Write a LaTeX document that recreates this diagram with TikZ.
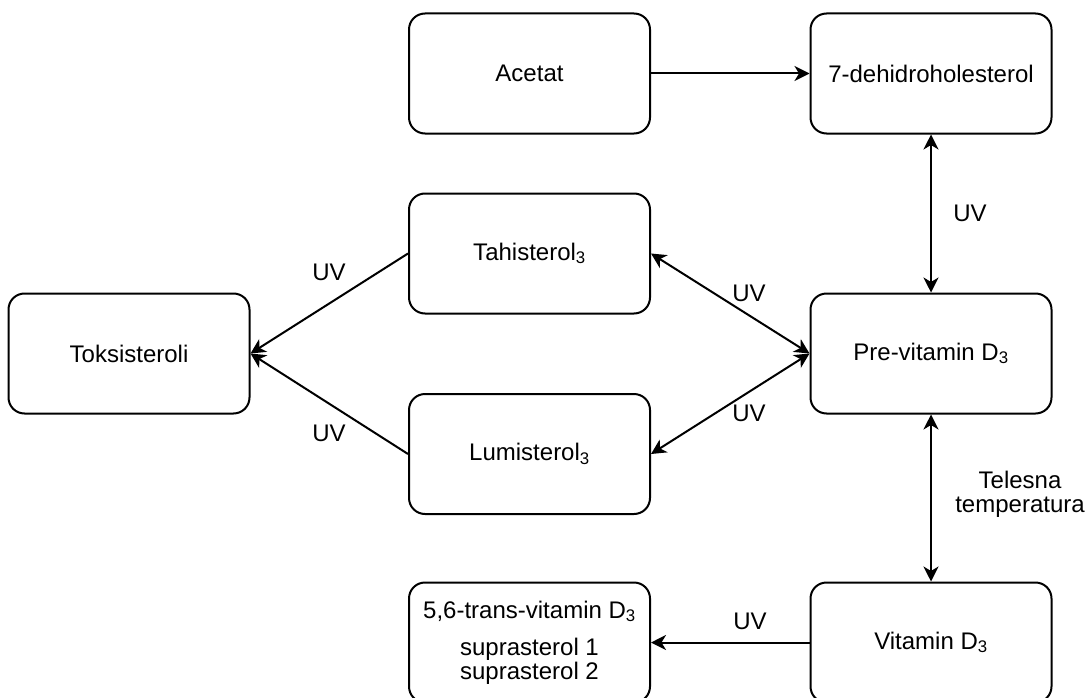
\documentclass[tikz,border=0pt]{standalone}
\usepackage{fontspec}
\setmainfont{Liberation Sans}
\usetikzlibrary{arrows.meta}
\begin{document}
\begin{tikzpicture}[x=1pt,y=-1pt,
  box/.style={draw, line width=2pt, rounded corners=16pt, minimum width=241pt, minimum height=120pt, inner sep=0pt, align=center, font=\fontsize{24}{24}\selectfont},
  lbl/.style={font=\fontsize{24}{24}\selectfont, inner sep=0pt, align=center},
  tip/.tip={Stealth[length=15pt,width=15pt,inset=4.5pt]},
  conn/.style={line width=2pt, -tip},
  bconn/.style={line width=2pt, tip-tip}]
\useasboundingbox (0,0) rectangle (1086,698);
\node[box] (acetat) at (529.5,73.5) {Acetat};
\node[box] (dehidro) at (931,73.5) {7-dehidroholesterol};
\node[box] (tahi) at (529.5,253.5) {Tahisterol\textsubscript{3}};
\node[box] (toks) at (129,353.5) {Toksisteroli};
\node[box] (pre) at (931,353.5) {Pre-vitamin D\textsubscript{3}};
\node[box] (lumi) at (529.5,454) {Lumisterol\textsubscript{3}};
\node[box] (trans) at (529.5,642.5) {5,6-trans-vitamin D\textsubscript{3}\\[13pt]\fontsize{24}{21}\selectfont suprasterol 1\\suprasterol 2};
\node[box] (vitd) at (931,642.5) {Vitamin D\textsubscript{3}};

\draw[conn] (acetat.east) -- (dehidro.west);
\draw[bconn] (dehidro.south) -- (pre.north);
\draw[bconn] (pre.south) -- (vitd.north);
\draw[bconn] (tahi.east) -- (pre.west);
\draw[bconn] (lumi.east) -- (pre.west);
\draw[conn] (tahi.west) -- (toks.east);
\draw[conn] (lumi.west) -- (toks.east);
\draw[conn] (vitd.west) -- (trans.east);

\node[lbl] (uv1) at (970,213) {UV};
\node[lbl] (uv2) at (749,293) {UV};
\node[lbl] (uv3) at (749,413) {UV};
\node[lbl] (uv4) at (329,272) {UV};
\node[lbl] (uv5) at (329,433) {UV};
\node[lbl] (uv6) at (750,621.5) {UV};
\node[lbl] (temp) at (1020,494) {Telesna\\temperatura};
\end{tikzpicture}
\end{document}
